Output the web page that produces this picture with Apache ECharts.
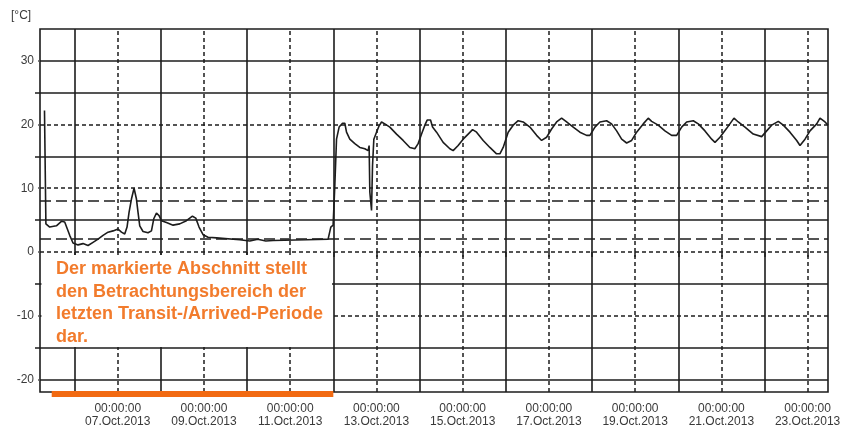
<!DOCTYPE html>
<html>
<head>
<meta charset="utf-8">
<script src="https://cdn.jsdelivr.net/npm/echarts@6/dist/echarts.min.js"></script>
<style>
html,body{margin:0;padding:0;background:#fff;}
#chart{width:845px;height:430px;}
</style>
</head>
<body>
<div id="chart"></div>
<script>
// ---- data ----
const times = [
"2013-10-05 07:14","2013-10-05 08:01","2013-10-05 10:08","2013-10-05 13:52","2013-10-05 16:39","2013-10-05 18:29",
"2013-10-05 21:16","2013-10-05 23:07","2013-10-06 01:54","2013-10-06 04:41","2013-10-06 07:28","2013-10-06 10:15",
"2013-10-06 13:02","2013-10-06 15:49","2013-10-06 18:36","2013-10-06 21:23","2013-10-07 00:10","2013-10-07 02:04",
"2013-10-07 03:54","2013-10-07 05:11","2013-10-07 06:18","2013-10-07 07:38","2013-10-07 09:05","2013-10-07 10:25",
"2013-10-07 11:18","2013-10-07 12:15","2013-10-07 14:05","2013-10-07 16:52","2013-10-07 18:46","2013-10-07 20:03",
"2013-10-07 21:33","2013-10-07 23:00","2013-10-08 00:20","2013-10-08 03:07","2013-10-08 06:48","2013-10-08 10:31",
"2013-10-08 14:15","2013-10-08 17:36","2013-10-08 19:26","2013-10-08 21:16","2013-10-08 23:30","2013-10-09 02:17",
"2013-10-09 06:58","2013-10-09 19:56","2013-10-10 01:30","2013-10-10 05:57","2013-10-10 10:25","2013-10-10 14:29",
"2013-10-11 09:05","2013-10-11 21:06","2013-10-11 22:36","2013-10-11 23:53","2013-10-12 00:50","2013-10-12 01:47",
"2013-10-12 03:14","2013-10-12 05:07","2013-10-12 06:24","2013-10-12 07:21","2013-10-12 09:11","2013-10-12 11:58",
"2013-10-12 14:45","2013-10-12 17:32","2013-10-12 19:22","2013-10-12 19:56","2013-10-12 20:19","2013-10-12 21:16",
"2013-10-12 21:49","2013-10-12 22:33","2013-10-13 00:03","2013-10-13 01:30","2013-10-13 02:50","2013-10-13 04:40",
"2013-10-13 07:27","2013-10-13 11:11","2013-10-13 14:52","2013-10-13 18:36","2013-10-13 21:23","2013-10-13 23:13",
"2013-10-14 01:07","2013-10-14 02:57","2013-10-14 04:14","2013-10-14 06:07","2013-10-14 07:14","2013-10-14 09:28",
"2013-10-14 13:08","2013-10-14 16:52","2013-10-14 18:42","2013-10-14 21:29","2013-10-15 00:16","2013-10-15 03:03",
"2013-10-15 05:30","2013-10-15 07:44","2013-10-15 11:25","2013-10-15 15:08","2013-10-15 18:52","2013-10-15 20:43",
"2013-10-15 22:33","2013-10-16 01:20","2013-10-16 04:07","2013-10-16 06:54","2013-10-16 09:41","2013-10-16 13:25",
"2013-10-16 17:09","2013-10-16 19:56","2013-10-16 22:43","2013-10-17 01:30","2013-10-17 04:17","2013-10-17 07:04",
"2013-10-17 09:51","2013-10-17 13:32","2013-10-17 17:15","2013-10-17 20:59","2013-10-17 22:50","2013-10-18 01:37",
"2013-10-18 04:24","2013-10-18 08:07","2013-10-18 10:54","2013-10-18 13:42","2013-10-18 16:29","2013-10-18 19:16",
"2013-10-18 22:03","2013-10-19 00:50","2013-10-19 04:30","2013-10-19 07:17","2013-10-19 09:11","2013-10-19 12:51",
"2013-10-19 16:35","2013-10-19 20:19","2013-10-19 23:06","2013-10-20 01:53","2013-10-20 04:40","2013-10-20 08:21",
"2013-10-20 11:08","2013-10-20 14:52","2013-10-20 18:36","2013-10-20 20:26","2013-10-20 23:13","2013-10-21 02:57",
"2013-10-21 07:01","2013-10-21 09:24","2013-10-21 13:08","2013-10-21 17:45","2013-10-21 22:26","2013-10-22 01:13",
"2013-10-22 04:00","2013-10-22 07:41","2013-10-22 10:28","2013-10-22 14:11","2013-10-22 17:55","2013-10-22 19:46",
"2013-10-22 22:33","2013-10-23 01:20","2013-10-23 05:04","2013-10-23 06:54","2013-10-23 09:41","2013-10-23 11:21"
];
const temps = [
22.2,4.4,3.9,4.1,4.8,4.7,
2.6,1.4,1.1,1.3,1.0,1.5,
2.0,2.6,3.1,3.3,3.6,3.1,
2.8,3.9,6.2,8.3,10.0,8.3,
6.2,4.1,3.2,3.0,3.3,5.2,
6.1,5.7,4.9,4.6,4.2,4.4,
4.9,5.6,5.3,3.9,2.7,2.3,
2.2,1.9,1.7,2.0,1.7,1.8,
1.9,2.0,3.9,4.2,10.4,17.7,
19.6,20.2,20.2,18.8,17.7,17.0,
16.4,16.2,15.9,16.7,9.4,6.5,
13.5,17.7,18.8,19.8,20.4,20.1,
19.6,18.5,17.5,16.4,16.2,17.0,
18.5,19.9,20.7,20.7,19.6,18.8,
17.2,16.2,15.9,16.7,17.7,18.5,
19.2,18.8,17.5,16.4,15.4,15.4,
16.4,18.8,19.9,20.6,20.4,19.6,
18.3,17.5,18.0,19.3,20.4,21.0,
20.4,19.6,18.8,18.3,18.3,19.6,
20.4,20.6,20.1,19.0,17.7,17.1,
17.5,18.8,20.1,21.0,20.5,19.9,
19.0,18.3,18.3,19.6,20.4,20.6,
20.1,19.0,17.7,17.2,18.0,19.4,
21.0,20.4,19.6,18.5,18.1,19.0,
19.9,20.5,19.9,18.8,17.5,16.7,
17.7,19.0,20.1,21.0,20.4,19.9
];
const axisStart = "2013-10-05 04:44";
const axisEnd = "2013-10-23 11:21";
const yMin = -22, yMax = 35;
const labelDays = ["2013-10-07","2013-10-09","2013-10-11","2013-10-13","2013-10-15","2013-10-17","2013-10-19","2013-10-21","2013-10-23"];
const solidDays = ["2013-10-06","2013-10-08","2013-10-10","2013-10-12","2013-10-14","2013-10-16","2013-10-18","2013-10-20","2013-10-22"];
const yLabelValues = [30,20,10,0,-10,-20];
const ySolidLines = [30,25,15,5,-5,-15,-20];
const yMajorTicks = [25,15,5,-5,-15];
const yShortDashLines = [20,10,0,-10];
const yLongDashLines = [8,2];
const markedPeriod = ["2013-10-05 11:15","2013-10-12 00:00"];
const markedLevel = -22.3;
const noteText = "Der markierte Abschnitt stellt\nden Betrachtungsbereich der\nletzten Transit-/Arrived-Periode\ndar.";
const months = ["Jan","Feb","Mar","Apr","May","Jun","Jul","Aug","Sep","Oct","Nov","Dec"];

// ---- helpers ----
function ts(s){ return new Date(s.length <= 10 ? s + "T00:00:00" : s.replace(" ","T") + ":00").getTime(); }
function pad(n){ return (n<10?"0":"") + n; }

const lineData = times.map((t,i)=>[ts(t), temps[i]]);
const dayTicks = labelDays.concat(solidDays).map(ts).sort((a,b)=>a-b);

const ink = "#1c1c1c";
const markLines = [];
solidDays.forEach(d=>markLines.push({xAxis: ts(d), lineStyle:{type:"solid", color:ink, width:1.6}}));
labelDays.forEach(d=>markLines.push({xAxis: ts(d), lineStyle:{type:[4,3], color:ink, width:1.5}}));
ySolidLines.forEach(v=>markLines.push({yAxis: v, lineStyle:{type:"solid", color:ink, width:1.6}}));
yShortDashLines.forEach(v=>markLines.push({yAxis: v, lineStyle:{type:[4,3], color:ink, width:1.5}}));
yLongDashLines.forEach(v=>markLines.push({yAxis: v, lineStyle:{type:[11,5], color:ink, width:1.5}}));

const font = "'Liberation Sans', Arial, sans-serif";
const chart = echarts.init(document.getElementById("chart"), null, {renderer:"canvas"});
chart.setOption({
  animation: false,
  backgroundColor: "#fff",
  grid: {left: 40, right: 17, top: 29, bottom: 38, show: true, borderColor: ink, borderWidth: 1.6, backgroundColor: "transparent"},
  xAxis: {
    type: "value", min: ts(axisStart), max: ts(axisEnd),
    axisLine: {show: false},
    splitLine: {show: false},
    axisTick: {show: true, customValues: dayTicks, length: 5, lineStyle:{color: ink, width: 1.5}},
    axisLabel: {
      customValues: labelDays.map(ts), margin: 10, color: "#3a3a3a", fontSize: 12, fontFamily: font, lineHeight: 13,
      formatter: function(v){ const d = new Date(v); return pad(d.getHours())+":"+pad(d.getMinutes())+":"+pad(d.getSeconds())+"\n"+pad(d.getDate())+"."+months[d.getMonth()]+"."+d.getFullYear(); }
    }
  },
  yAxis: [
    {
      type: "value", min: yMin, max: yMax,
      axisLine: {show: false}, splitLine: {show: false},
      axisTick: {show: true, customValues: yLabelValues, length: 2, lineStyle:{color: "#555", width: 1.5}},
      axisLabel: {customValues: yLabelValues, margin: 6, color: "#3a3a3a", fontSize: 12, fontFamily: font}
    },
    {
      type: "value", min: yMin, max: yMax, position: "left",
      axisLine: {show: false}, splitLine: {show: false},
      axisTick: {show: true, customValues: yMajorTicks, length: 5, lineStyle:{color: ink, width: 1.5}},
      axisLabel: {show: false}
    }
  ],
  graphic: [
    {type: "text", left: 11, top: 10, style: {text: "[°C]", fill: "#3a3a3a", font: "12px " + font}},
    {type: "rect", shape: {x: 41.5, y: 255, width: 290.5, height: 92}, style: {fill: "#fff"}, z: 50},
    {type: "text", x: 56, y: 258, z: 51, style: {text: noteText, fill: "#f27b2c", font: "bold 18px " + font, lineHeight: 22.6, verticalAlign: "top"}}
  ],
  series: [
    {
      type: "line", data: lineData, showSymbol: false, symbol: "none",
      lineStyle: {color: ink, width: 1.6}, z: 3,
      markLine: {silent: true, symbol: "none", label: {show: false}, data: markLines, z: 2}
    },
    {
      type: "line", data: markedPeriod.map(t=>[ts(t), markedLevel]), showSymbol: false, symbol: "none",
      clip: false, lineStyle: {color: "#f26a12", width: 6, cap: "butt"}, z: 10
    }
  ]
});
</script>
</body>
</html>
